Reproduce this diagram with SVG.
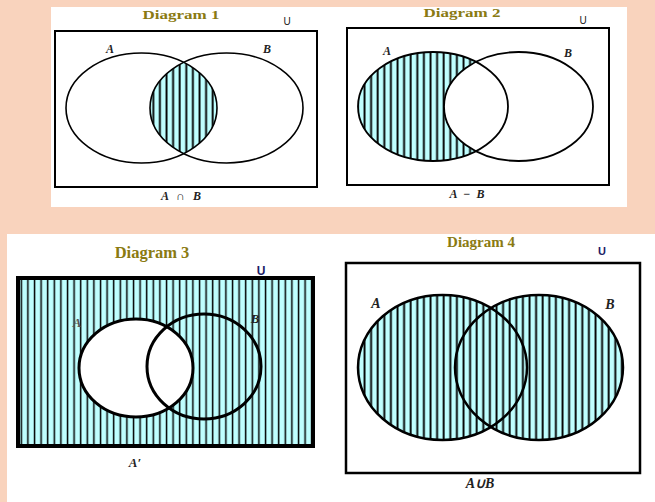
<svg xmlns="http://www.w3.org/2000/svg" width="655" height="502" viewBox="0 0 655 502">
<style>
.title{font-family:"Liberation Serif",serif;font-weight:bold;fill:#8a7a12}
.u{font-family:"Liberation Sans",sans-serif;fill:#222}
.ub{font-family:"Liberation Sans",sans-serif;font-weight:bold;fill:#1c1c66}
.lbl{font-family:"Liberation Serif",serif;font-weight:bold;font-style:italic;fill:#222}
.box{fill:none;stroke:#000}
.ring{fill:none;stroke:#000}
</style>
<defs>
<pattern id="h1" patternUnits="userSpaceOnUse" width="6.6" height="10">
<rect width="6.6" height="10" fill="#bfffff"/>
<line x1="1.5" y1="0" x2="1.5" y2="10" stroke="#000" stroke-width="1.9"/>
</pattern>
<pattern id="h3" patternUnits="userSpaceOnUse" width="6.6" height="10">
<rect width="6.6" height="10" fill="#bfffff"/>
<line x1="1.5" y1="0" x2="1.5" y2="10" stroke="#000" stroke-width="1.5"/>
</pattern>
<clipPath id="clipA1"><ellipse cx="141.5" cy="108" rx="75.5" ry="55"/></clipPath>
</defs>
<rect width="655" height="502" fill="#f9d3bd"/>
<rect x="51" y="7" width="576" height="200" fill="#fff"/>
<rect x="7" y="234" width="648" height="268" fill="#fff"/>

<g id="diagram1">
<text class="title" x="181" y="18.5" font-size="13" text-anchor="middle" textLength="77" lengthAdjust="spacingAndGlyphs">Diagram 1</text>
<text class="u" x="287" y="25" font-size="10" text-anchor="middle">U</text>
<rect class="box" x="55" y="31" width="262" height="156" stroke-width="2"/>
<ellipse cx="226.5" cy="108" rx="76.5" ry="55" fill="url(#h1)" clip-path="url(#clipA1)"/>
<ellipse class="ring" cx="141.5" cy="108" rx="75.5" ry="55" stroke-width="1.6"/>
<ellipse class="ring" cx="226.5" cy="108" rx="76.5" ry="55" stroke-width="1.6"/>
<text class="lbl" x="110" y="53" font-size="12" text-anchor="middle">A</text>
<text class="lbl" x="267" y="53" font-size="12" text-anchor="middle">B</text>
<text class="lbl" x="181" y="200" font-size="12" text-anchor="middle" textLength="40" lengthAdjust="spacing">A ∩ B</text>
</g>

<g id="diagram2">
<text class="title" x="462" y="17" font-size="13" text-anchor="middle" textLength="77" lengthAdjust="spacingAndGlyphs">Diagram 2</text>
<text class="u" x="583" y="24" font-size="10" text-anchor="middle">U</text>
<rect class="box" x="347" y="28" width="262" height="157" stroke-width="2"/>
<ellipse cx="433" cy="106.5" rx="75" ry="54.5" fill="url(#h1)"/>
<ellipse cx="518.5" cy="106.5" rx="74.5" ry="54.5" fill="#fff"/>
<ellipse class="ring" cx="433" cy="106.5" rx="75" ry="54.5" stroke-width="1.8"/>
<ellipse class="ring" cx="518.5" cy="106.5" rx="74.5" ry="54.5" stroke-width="1.8"/>
<text class="lbl" x="387" y="55" font-size="12" text-anchor="middle">A</text>
<text class="lbl" x="568" y="57" font-size="12" text-anchor="middle">B</text>
<text class="lbl" x="467" y="198" font-size="12" text-anchor="middle" textLength="35" lengthAdjust="spacing">A − B</text>
</g>

<g id="diagram3">
<text class="title" x="152" y="258" font-size="16.5" text-anchor="middle">Diagram 3</text>
<text class="ub" x="261" y="275" font-size="12" text-anchor="middle">U</text>
<rect x="18" y="278" width="295" height="168" fill="url(#h3)" stroke="#000" stroke-width="4"/>
<ellipse cx="136" cy="368" rx="57" ry="49" fill="#fff"/>
<ellipse class="ring" cx="136" cy="368" rx="57" ry="49" stroke-width="3"/>
<ellipse class="ring" cx="204" cy="366.5" rx="57" ry="52.5" stroke-width="3"/>
<text class="lbl" x="77" y="327" font-size="13" text-anchor="middle" style="fill:#555">A</text>
<text class="lbl" x="255" y="323" font-size="13" text-anchor="middle">B</text>
<text class="lbl" x="135" y="467" font-size="13" text-anchor="middle">A′</text>
</g>

<g id="diagram4">
<text class="title" x="481" y="247" font-size="15" text-anchor="middle">Diagram 4</text>
<text class="ub" x="602" y="255" font-size="11" text-anchor="middle">U</text>
<rect class="box" x="346" y="263" width="294" height="210" stroke-width="2.5"/>
<ellipse cx="442.5" cy="367.5" rx="84.5" ry="72.5" fill="url(#h1)"/>
<ellipse cx="539" cy="367.5" rx="84" ry="72.5" fill="url(#h1)"/>
<ellipse class="ring" cx="442.5" cy="367.5" rx="84.5" ry="72.5" stroke-width="2.5"/>
<ellipse class="ring" cx="539" cy="367.5" rx="84" ry="72.5" stroke-width="2.5"/>
<text class="lbl" x="376" y="308" font-size="14" text-anchor="middle">A</text>
<text class="lbl" x="610" y="309" font-size="14" text-anchor="middle">B</text>
<text class="lbl" x="480" y="488" font-size="14" text-anchor="middle">A∪B</text>
</g>
</svg>
